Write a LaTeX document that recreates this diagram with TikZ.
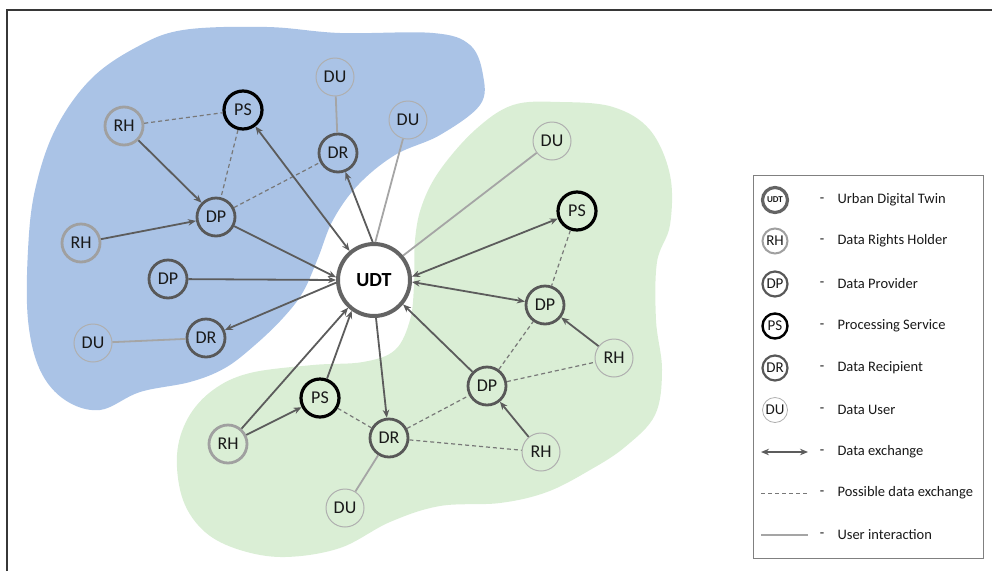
\documentclass[tikz,border=0pt]{standalone}
\usepackage{fontspec}
\setmainfont{Carlito}
\usetikzlibrary{arrows.meta}

\definecolor{bluezone}{RGB}{170,195,230}
\definecolor{greenzone}{RGB}{218,238,213}
\definecolor{udtgray}{RGB}{100,100,100}
\definecolor{rhgray}{RGB}{160,160,160}
\definecolor{dkgray}{RGB}{88,88,88}
\definecolor{dugray}{RGB}{175,175,175}
\definecolor{edgegray}{RGB}{92,92,92}
\definecolor{dashgray}{RGB}{120,120,120}
\definecolor{usergray}{RGB}{165,165,165}
\definecolor{txt}{RGB}{25,25,25}
\definecolor{framegray}{RGB}{55,55,55}

\tikzset{
  actor/.style={circle, minimum size=38pt, inner sep=0pt, text=txt,
                font=\fontsize{18}{18}\selectfont},
  rhnode/.style={actor, draw=rhgray, line width=2.8pt},
  rhthin/.style={actor, draw=dugray, line width=1pt},
  dpnode/.style={actor, draw=dkgray, line width=2.8pt},
  psnode/.style={actor, draw=black, line width=3.2pt},
  drnode/.style={actor, draw=dkgray, line width=2.8pt},
  dunode/.style={actor, draw=dugray, line width=1pt},
  udtnode/.style={circle, minimum size=72pt, inner sep=0pt, draw=udtgray,
                  line width=4pt, fill=white, text=black,
                  font=\bfseries\fontsize{20}{20}\selectfont},
  tip/.tip={Stealth[length=8pt,width=6.5pt]},
  flow/.style={draw=edgegray, line width=1.8pt, -tip},
  twoway/.style={draw=edgegray, line width=1.8pt, tip-tip},
  maybe/.style={draw=dashgray, line width=1.2pt, dash pattern=on 4pt off 3pt},
  usage/.style={draw=usergray, line width=1.8pt},
  % legend entries
  keynode/.style={circle, minimum size=25pt, inner sep=0pt, text=txt,
                  font=\fontsize{15}{15}\selectfont},
  keytext/.style={anchor=west, text=txt, font=\fontsize{14.5}{14.5}\selectfont},
  keydash/.style={text=txt, font=\fontsize{14.5}{14.5}\selectfont},
}

\begin{document}
\begin{tikzpicture}[x=1pt,y=-1pt]
\useasboundingbox (0,0) rectangle (992,571);

% outer frame (only its left and top sides fall inside the page)
\draw[framegray, line width=2pt] (7,571) -- (7,10) -- (992,10);

% stakeholder zones
\fill[bluezone] plot[smooth cycle, tension=0.6] coordinates {
  (183,30) (267,27) (340,33) (433,33) (470,45) (483,75) (480,105)
  (440,135) (395,155) (358,185) (333,220) (318,258) (303,292)
  (283,318) (255,345) (225,368) (190,382) (140,392) (100,410)
  (65,400) (40,370) (28,320) (28,250) (35,190) (55,130) (90,80) (135,48)};
\fill[greenzone] plot[smooth cycle, tension=0.6] coordinates {
  (513,105) (560,102) (613,107) (650,130) (670,175) (670,225)
  (657,262) (656,320) (662,370) (655,415) (625,447) (590,470)
  (547,492) (500,503) (440,506) (390,522) (340,548) (285,557)
  (240,550) (205,532) (183,500) (177,455) (188,418) (213,390)
  (250,373) (313,365) (363,362) (395,350) (410,320) (414,285)
  (415,240) (422,205) (440,170) (475,130)};

% central twin
\node[udtnode] (udt) at (374,280) {UDT};

% blue zone actors
\node[rhnode] (rh1) at (124,126) {RH};
\node[psnode] (ps1) at (243,110) {PS};
\node[dunode] (du1) at (335,77)  {DU};
\node[dunode] (du2) at (408,120) {DU};
\node[drnode] (dr1) at (338,153) {DR};
\node[dpnode] (dp1) at (216,217) {DP};
\node[rhnode] (rh2) at (81,243)  {RH};
\node[dpnode] (dp2) at (168,279) {DP};
\node[dunode] (du3) at (93,343)  {DU};
\node[drnode] (dr2) at (206,338) {DR};

% green zone actors
\node[dunode] (du4) at (552,141) {DU};
\node[psnode] (ps2) at (577,211) {PS};
\node[dpnode] (dp3) at (545,305) {DP};
\node[rhthin] (rh3) at (614,358) {RH};
\node[dpnode] (dp4) at (487,386) {DP};
\node[rhthin] (rh4) at (541,452) {RH};
\node[psnode] (ps3) at (320,398) {PS};
\node[rhnode] (rh5) at (228,444) {RH};
\node[drnode] (dr3) at (389,438) {DR};
\node[dunode] (du5) at (345,508) {DU};

% blue zone connections
\draw[maybe] (rh1) -- (ps1);
\draw[maybe] (ps1) -- (dp1);
\draw[maybe] (dp1) -- (dr1);
\draw[usage] (du1) -- (dr1);
\draw[usage] (du2) -- (udt.88);
\draw[flow] (rh1) -- (dp1);
\draw[flow] (rh2) -- (dp1);
\draw[flow] (dp1) -- (udt.176);
\draw[flow] (dp2) -- (udt.180);
\draw[flow] (udt.184) -- (dr2);
\draw[usage] (du3) -- (dr2);
\draw[twoway] (udt.130) -- (ps1);
\draw[flow] (udt.92) -- (dr1);

% green zone connections
\draw[usage] (du4) -- (udt.40);
\draw[twoway] (udt.5) -- (ps2);
\draw[twoway] (udt.-3) -- (dp3);
\draw[maybe] (ps2) -- (dp3);
\draw[flow] (rh3) -- (dp3);
\draw[maybe] (dp4) -- (dp3);
\draw[maybe] (dp4) -- (rh3);
\draw[flow] (dp4) -- (udt.-40);
\draw[flow] (rh4) -- (dp4);
\draw[maybe] (dr3) -- (dp4);
\draw[maybe] (dr3) -- (rh4);
\draw[flow] (udt.-87) -- (dr3);
\draw[flow] (ps3) -- (udt.-126);
\draw[flow] (rh5) -- (udt.-133);
\draw[flow] (rh5) -- (ps3);
\draw[maybe] (ps3) -- (dr3);
\draw[usage] (dr3) -- (du5);

% legend
\draw[draw=gray, line width=1pt, fill=white] (753,175) rectangle (983,558);
\node[keynode, draw=udtgray, line width=3.2pt,
      font=\bfseries\fontsize{9}{9}\selectfont] (kudt) at (775,200) {UDT};
\node[keynode, draw=rhgray, line width=2pt]   (krh) at (775,241) {RH};
\node[keynode, draw=dkgray, line width=2.2pt] (kdp) at (775,284) {DP};
\node[keynode, draw=black, line width=2.4pt]  (kps) at (775,326) {PS};
\node[keynode, draw=dkgray, line width=2.2pt] (kdr) at (775,368) {DR};
\node[keynode, draw=dugray, line width=0.8pt] (kdu) at (775,410) {DU};
\coordinate (kxa) at (761,452); \coordinate (kxb) at (808,452);
\coordinate (kpa) at (761,493); \coordinate (kpb) at (808,493);
\coordinate (kua) at (761,535); \coordinate (kub) at (808,535);
\draw[twoway, line width=1.5pt] (kxa) -- (kxb);
\draw[maybe, line width=1pt] (kpa) -- (kpb);
\draw[usage] (kua) -- (kub);

\foreach \y/\label in {200/Urban Digital Twin, 241/Data Rights Holder,
    284/Data Provider, 326/Processing Service, 368/Data Recipient,
    410/Data User, 452/Data exchange, 493/Possible data exchange,
    535/User interaction} {
  \node[keydash] at (822,\y) {-};
  \node[keytext] at (834,\y) {\label};
}
\end{tikzpicture}
\end{document}
